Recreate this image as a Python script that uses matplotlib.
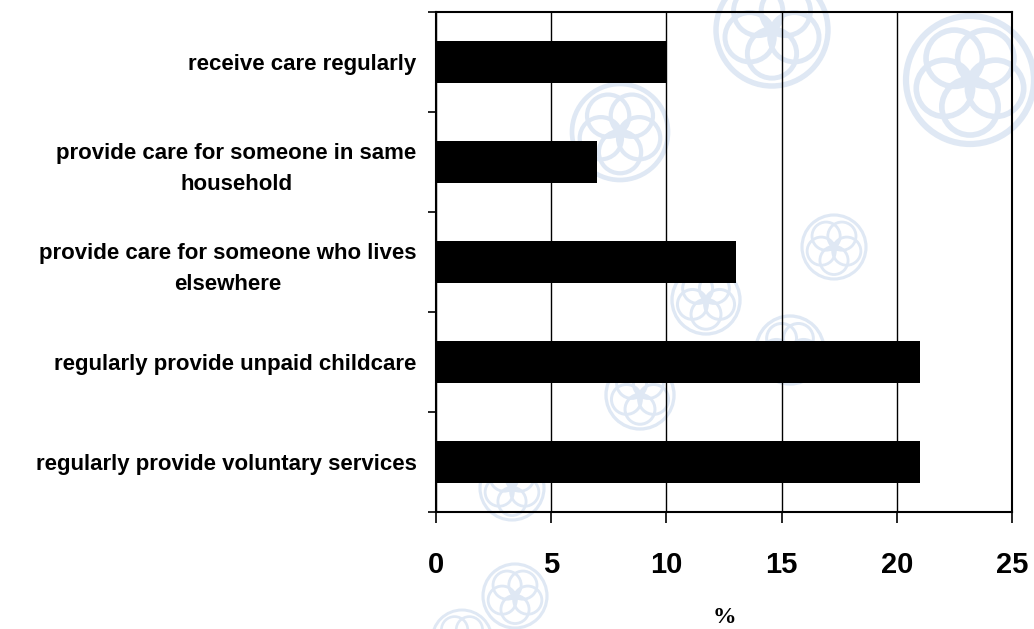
import matplotlib
matplotlib.use('Agg')
import matplotlib.pyplot as plt
from matplotlib.patches import Circle
import numpy as np

# -------------------------------
# data
# -------------------------------
categories = [
    "receive care regularly",
    "provide care for someone in same\nhousehold",
    "provide care for someone who lives\nelsewhere",
    "regularly provide unpaid childcare",
    "regularly provide voluntary services",
]
percent = [10, 7, 13, 21, 21]
xticks = [0, 5, 10, 15, 20, 25]

# faint background emblems (pixel centre x, centre y, radius)
emblems = [
    (970, 80, 64), (772, 30, 56), (620, 132, 48), (834, 247, 32),
    (706, 300, 34), (790, 350, 34), (640, 395, 34), (512, 488, 32),
    (515, 596, 32), (462, 640, 30),
]
emblem_color = "#dfe8f4"


def draw_emblem(ax, cx, cy, r):
    lw = max(r * 0.07, 1.6)
    ax.add_patch(Circle((cx, cy), r, fill=False, ec=emblem_color, lw=lw))
    for k in range(5):
        a = np.pi / 2 + k * 2 * np.pi / 5
        px, py = cx + 0.42 * r * np.cos(a), cy + 0.42 * r * np.sin(a)
        ax.add_patch(Circle((px, py), 0.44 * r, fill=False, ec=emblem_color, lw=lw * 0.9))
    ax.add_patch(Circle((cx, cy), 0.12 * r, fill=True, fc=emblem_color, ec=emblem_color))


W, H = 1034, 629
fig = plt.figure(figsize=(W / 100, H / 100), dpi=100)
fig.patch.set_facecolor("white")

bg = fig.add_axes([0, 0, 1, 1], zorder=0)
bg.set_xlim(0, W)
bg.set_ylim(H, 0)
bg.axis("off")
for cx, cy, r in emblems:
    draw_emblem(bg, cx, cy, r)

ax = fig.add_axes([436 / W, 1 - 512 / H, (1012 - 436) / W, (512 - 12) / H], zorder=1)
ax.set_facecolor("none")

y = np.arange(len(categories))
ax.barh(y, percent, height=0.42, color="black", zorder=3)

ax.set_xlim(0, 25)
ax.set_ylim(len(categories) - 0.5, -0.5)
ax.set_xticks(xticks)
ax.set_xticklabels([str(t) for t in xticks], fontsize=21, fontweight="bold",
                   family="Liberation Sans")
ax.xaxis.grid(True, color="black", lw=1.0, zorder=1)
ax.set_axisbelow(False)

# category boundaries get the tick marks, labels sit at bar centres
ax.set_yticks(np.arange(len(categories) + 1) - 0.5)
ax.set_yticklabels([])
ax.set_yticks(y, minor=True)
ax.set_yticklabels(categories, minor=True, fontsize=16, fontweight="bold",
                   family="Liberation Sans", multialignment="center", linespacing=1.6)
ax.tick_params(axis="y", which="major", direction="out", length=6, width=1.2)
ax.tick_params(axis="y", which="minor", length=0, pad=14)
ax.tick_params(axis="x", direction="out", length=8, width=1.2, pad=20)

for s in ax.spines.values():
    s.set_linewidth(1.5)
    s.set_color("black")

ax.set_xlabel("%", fontsize=17, fontweight="bold", family="Liberation Serif", labelpad=20)

fig.savefig("out.png", dpi=100, facecolor="white")
plt.close(fig)
